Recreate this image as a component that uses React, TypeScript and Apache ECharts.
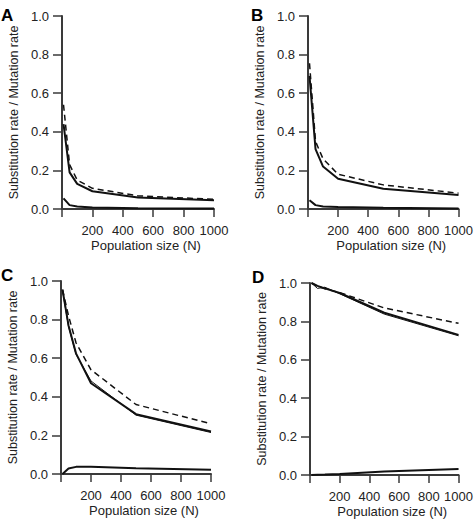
import React, { useEffect, useRef } from "react";
import * as echarts from "echarts";

// Population sizes at which the ratio was evaluated
const popSizes = [10, 50, 100, 200, 500, 1000];

// Panel A
const aSolid = [0.44, 0.19, 0.13, 0.092, 0.06, 0.045];
const aDashed = [0.54, 0.23, 0.15, 0.107, 0.068, 0.05];
const aLow = [0.055, 0.02, 0.013, 0.008, 0.004, 0.002];

// Panel B
const bSolid = [0.69, 0.31, 0.22, 0.157, 0.105, 0.072];
const bDashed = [0.755, 0.35, 0.26, 0.18, 0.125, 0.082];
const bLow = [0.045, 0.02, 0.013, 0.01, 0.006, 0.003];

// Panel C
const cSolid = [0.955, 0.77, 0.625, 0.47, 0.31, 0.22];
const cSolid2 = [0.95, 0.765, 0.62, 0.482, 0.305, 0.215];
const cDashed = [0.955, 0.82, 0.68, 0.54, 0.36, 0.26];
const cLow = [0.0, 0.028, 0.037, 0.037, 0.03, 0.022];

// Panel D
const dSolid = [1.0, 0.985, 0.972, 0.948, 0.845, 0.73];
const dSolid2 = [1.0, 0.972, 0.978, 0.944, 0.838, 0.725];
const dDashed = [1.0, 0.983, 0.97, 0.95, 0.87, 0.79];
const dLow = [0.0, 0.001, 0.002, 0.005, 0.018, 0.031];

const xTicks = [0, 200, 400, 600, 800, 1000];
const yTicks = [0, 0.2, 0.4, 0.6, 0.8, 1.0];

const panelLabels = ["A", "B", "C", "D"];
const xTitle = "Population size (N)";
const yTitle = "Substitution rate / Mutation rate";

const FONT = "'Liberation Sans', Arial, Helvetica, sans-serif";
const TEXT = "#222";
const AXIS = "#3a3a3a";

const grids = [
  { left: 62, top: 16, width: 152, height: 193 },
  { left: 308, top: 16, width: 153, height: 193 },
  { left: 61, top: 281, width: 150, height: 193 },
  { left: 310, top: 283, width: 152, height: 192 },
];

const panelData = [
  { solid: [aSolid], dashed: aDashed, low: aLow },
  { solid: [bSolid], dashed: bDashed, low: bLow },
  { solid: [cSolid, cSolid2], dashed: cDashed, low: cLow },
  { solid: [dSolid, dSolid2], dashed: dDashed, low: dLow },
];

const pairs = (ys: number[]) => popSizes.map((n, i) => [n, ys[i]]);

export default function App() {
  const ref = useRef<HTMLDivElement>(null);

  useEffect(() => {
    if (!ref.current) return;
    const chart = echarts.init(ref.current, undefined, { renderer: "svg" });

    const xAxis = grids.map((_, i) => ({
      type: "value",
      gridIndex: i,
      min: xTicks[0],
      max: xTicks[xTicks.length - 1],
      interval: 200,
      name: xTitle,
      nameLocation: "middle",
      nameGap: 30,
      nameTextStyle: {
        fontFamily: FONT,
        fontSize: 13,
        color: TEXT,
        padding: [0, 0, 0, 16],
      },
      axisLine: { show: true, lineStyle: { color: AXIS, width: 2 } },
      axisTick: { show: true, inside: false, length: 8, lineStyle: { color: AXIS, width: 1.5 } },
      axisLabel: {
        fontFamily: FONT,
        fontSize: 13,
        color: TEXT,
        margin: 15,
        formatter: (v: number) => (v === 0 ? "" : String(v)),
      },
      splitLine: { show: false },
    }));

    const yAxis = grids.map((_, i) => ({
      type: "value",
      gridIndex: i,
      min: yTicks[0],
      max: yTicks[yTicks.length - 1],
      interval: 0.2,
      name: yTitle,
      nameLocation: "middle",
      nameGap: 42,
      nameRotate: 90,
      nameTextStyle: { fontFamily: FONT, fontSize: 12.5, color: TEXT },
      axisLine: { show: true, lineStyle: { color: AXIS, width: 2 } },
      axisTick: { show: true, inside: false, length: 9, lineStyle: { color: AXIS, width: 1.5 } },
      axisLabel: {
        fontFamily: FONT,
        fontSize: 13,
        color: TEXT,
        margin: 13,
        formatter: (v: number) => v.toFixed(1),
      },
      splitLine: { show: false },
    }));

    const series: any[] = [];
    panelData.forEach((p, i) => {
      p.solid.forEach((ys, k) => {
        series.push({
          type: "line",
          xAxisIndex: i,
          yAxisIndex: i,
          data: pairs(ys),
          showSymbol: false,
          lineStyle: { color: "#111", width: k === 0 ? 2 : 1 },
        });
      });
      series.push({
        type: "line",
        xAxisIndex: i,
        yAxisIndex: i,
        data: pairs(p.dashed),
        showSymbol: false,
        lineStyle: { color: "#111", width: 1.5, type: [6, 4] },
      });
      series.push({
        type: "line",
        xAxisIndex: i,
        yAxisIndex: i,
        data: pairs(p.low),
        showSymbol: false,
        lineStyle: { color: "#111", width: 2 },
      });
    });

    const letterPos = [
      { x: 1, y: 7 },
      { x: 251, y: 7 },
      { x: 1, y: 267 },
      { x: 252, y: 269 },
    ];

    chart.setOption({
      animation: false,
      backgroundColor: "#fff",
      grid: grids.map((g) => ({ ...g, containLabel: false })),
      xAxis,
      yAxis,
      series,
      graphic: panelLabels.map((t, i) => ({
        type: "text",
        x: letterPos[i].x,
        y: letterPos[i].y,
        style: {
          text: t,
          fontFamily: FONT,
          fontSize: 17,
          fontWeight: "bold",
          fill: "#000",
        },
      })),
    });

    return () => chart.dispose();
  }, []);

  return (
    <div
      ref={ref}
      style={{ position: "absolute", left: 0, top: 0, width: 476, height: 522 }}
    />
  );
}
